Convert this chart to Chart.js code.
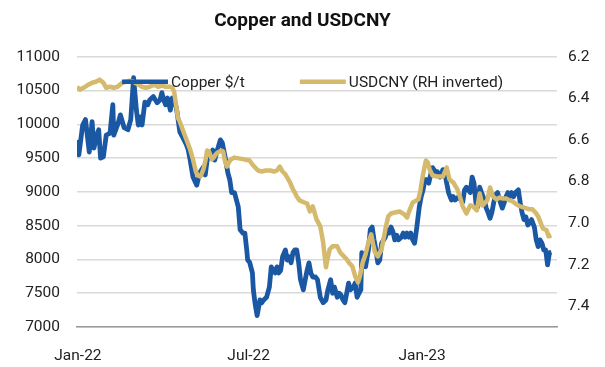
<!DOCTYPE html>
<html lang="en">
<head>
    <meta charset="UTF-8">
    <title>Copper and USDCNY</title>
    <style>
        html, body { margin: 0; padding: 0; background: #fff; }
        #wrap { width: 605px; height: 367px; }
    </style>
</head>
<body>
    <div id="wrap"><canvas id="myChart"></canvas></div>
    <script src="https://cdn.jsdelivr.net/npm/chart.js"></script>
    <script>
        // x values are days counted from 1 Jan 2022
        const copperDays = [-1,1,5,8,12,15,17,20,22,24,27,30,34,37,38,42,45,49,53,56,59,62,64,66,68,71,74,76,80,84,87,89,91,93,95,98,100,103,105,108,111,115,117,119,122,126,129,133,135,137,140,143,145,147,151,153,156,159,161,163,166,170,172,175,177,179,180,182,185,186,188,190,193,195,197,200,203,205,207,209,211,213,215,217,220,222,224,226,228,230,232,234,236,239,241,243,245,247,249,252,254,257,260,263,265,268,270,272,275,277,279,281,283,285,287,289,292,294,296,298,300,301,303,305,308,310,312,314,316,318,320,322,326,328,330,332,334,336,338,340,343,345,347,349,351,353,355,357,359,362,364,366,368,370,372,374,376,379,381,384,387,389,391,393,396,398,400,402,404,406,408,410,412,416,418,420,422,424,426,428,431,433,435,437,439,441,443,445,448,450,452,454,456,458,460,462,464,467,469,471,473,475,477,479,481,484,486,488,490,492,494,496,498,500,502];
        const copperPrice = [9770,9550,9990,10070,9590,10040,9650,9840,9920,9500,9520,9840,9870,10290,9840,9990,10140,9950,9920,10070,10690,10210,9990,10110,9990,10330,10290,10360,10410,10320,10360,10470,10360,10290,10390,10210,10390,10330,10190,9890,9810,9700,9620,9470,9220,9100,9280,9370,9250,9470,9550,9620,9470,9580,9770,9730,9520,9280,9180,8990,8990,8780,8440,8390,8390,8140,7990,7960,7800,7550,7330,7170,7400,7360,7400,7440,7590,7890,7840,7800,7890,7800,7840,8040,8140,7990,8040,7950,8100,8140,8140,7960,7700,7550,7700,7840,7950,7800,7740,7740,7700,7440,7360,7400,7550,7700,7500,7590,7440,7500,7470,7400,7360,7500,7650,7550,7590,7650,7440,7500,7550,8100,8040,7890,8140,8440,8480,8290,8140,7950,7990,8240,8330,8440,8390,8480,8410,8290,8360,8290,8330,8390,8330,8390,8330,8390,8290,8240,8440,8780,8930,9030,9180,9180,9130,9250,9360,9300,9300,9220,9330,9280,9130,8990,8880,8930,8880,8910,8930,8880,8850,9030,9070,8990,9220,9130,8840,8780,9070,8990,8880,8760,8690,8610,8700,8850,8960,8990,8840,8760,8840,8930,8990,8930,8990,8930,8990,9030,8840,8690,8590,8630,8510,8540,8590,8480,8290,8190,8290,8240,8140,8140,7920,8100,8110];

        const cnyDays = [-1,2,6,11,15,19,23,27,30,34,38,42,47,51,55,59,64,68,72,76,81,85,89,93,98,100,102,104,106,108,111,115,119,122,125,127,130,133,135,137,139,142,144,146,148,152,154,156,158,160,162,166,172,177,182,185,188,191,195,199,204,208,211,214,217,220,222,225,228,230,232,235,240,243,246,249,253,257,260,263,265,267,270,275,278,282,285,288,291,294,297,299,302,305,308,311,313,315,318,322,326,329,332,336,341,346,349,352,355,361,363,365,367,369,371,373,376,381,384,387,391,394,398,402,405,408,412,416,419,423,426,429,434,437,440,444,447,451,454,458,461,465,469,473,476,479,482,486,488,491,493,497,499,502];
        const cnyRate = [6.344,6.358,6.349,6.334,6.325,6.320,6.310,6.325,6.349,6.344,6.349,6.344,6.325,6.320,6.315,6.320,6.334,6.344,6.349,6.344,6.334,6.344,6.339,6.344,6.344,6.349,6.368,6.430,6.493,6.512,6.550,6.598,6.646,6.694,6.752,6.771,6.776,6.742,6.704,6.651,6.656,6.694,6.685,6.670,6.661,6.651,6.656,6.704,6.728,6.709,6.694,6.685,6.690,6.694,6.699,6.718,6.733,6.747,6.752,6.747,6.747,6.752,6.747,6.728,6.752,6.766,6.781,6.805,6.838,6.853,6.872,6.891,6.901,6.906,6.944,6.920,6.982,7.016,7.093,7.213,7.165,7.126,7.112,7.112,7.141,7.160,7.174,7.194,7.208,7.256,7.285,7.256,7.189,7.150,7.093,7.054,7.102,7.141,7.160,7.126,7.030,6.968,6.954,6.949,6.944,6.958,6.973,6.934,6.901,6.886,6.848,6.790,6.742,6.699,6.709,6.742,6.771,6.776,6.776,6.776,6.733,6.790,6.805,6.834,6.872,6.920,6.954,6.915,6.920,6.939,6.858,6.915,6.891,6.829,6.872,6.886,6.877,6.882,6.882,6.891,6.896,6.910,6.920,6.925,6.930,6.934,6.934,6.954,6.968,7.002,7.026,7.035,7.064,7.059];

        const xTickDays = [0, 181, 365];
        const xTickLabels = ['Jan-22', 'Jul-22', 'Jan-23'];
        const leftTicks = [7000, 7500, 8000, 8500, 9000, 9500, 10000, 10500, 11000];
        const rightTicks = [6.2, 6.4, 6.6, 6.8, 7.0, 7.2, 7.4];

        const BLUE = '#1a58a3';
        const GOLD = '#d5b96d';
        const tickFont = { family: 'Roboto', size: 15.5 };

        function toPoints(xs, ys) {
            let pts = [];
            for (let i = 0; i < xs.length; i++) pts.push({ x: xs[i], y: ys[i] });
            return pts;
        }

        // legend drawn inside the plot, like the Excel original
        const insideLegend = {
            id: 'insideLegend',
            afterDatasetsDraw(chart) {
                const ctx = chart.ctx;
                const area = chart.chartArea;
                let x = area.left + 45;
                const y = area.top + 25;
                ctx.save();
                ctx.font = '15.5px Roboto';
                ctx.textBaseline = 'middle';
                const items = [chart.data.datasets[0], chart.data.datasets[1]];
                items.forEach(ds => {
                    ctx.strokeStyle = ds.borderColor;
                    ctx.lineWidth = 4.5;
                    ctx.beginPath();
                    ctx.moveTo(x, y);
                    ctx.lineTo(x + 46, y);
                    ctx.stroke();
                    ctx.fillStyle = '#222';
                    ctx.fillText(ds.label, x + 49, y + 1);
                    x += 49 + ctx.measureText(ds.label).width + 55;
                });
                ctx.restore();
            }
        };

        const ctx = document.getElementById('myChart');
        new Chart(ctx, {
            type: 'line',
            data: {
                datasets: [{
                    label: 'Copper $/t',
                    data: toPoints(copperDays, copperPrice),
                    borderColor: BLUE,
                    borderWidth: 4.8,
                    pointRadius: 0,
                    tension: 0,
                    borderJoinStyle: 'round',
                    yAxisID: 'y',
                    order: 1
                }, {
                    label: 'USDCNY (RH inverted)',
                    data: toPoints(cnyDays, cnyRate),
                    borderColor: GOLD,
                    borderWidth: 4.5,
                    pointRadius: 0,
                    tension: 0,
                    borderJoinStyle: 'round',
                    yAxisID: 'y1',
                    order: 0
                }]
            },
            options: {
                responsive: true,
                maintainAspectRatio: false,
                animation: false,
                devicePixelRatio: 1,
                layout: { padding: 0 },
                scales: {
                    x: {
                        type: 'linear',
                        min: -1,
                        max: 508,
                        grid: { display: false },
                        border: { display: true, color: '#9a9a9a', width: 1.5 },
                        afterBuildTicks: s => { s.ticks = xTickDays.map(v => ({ value: v })); },
                        afterFit: s => { s.height = 40; },
                        ticks: {
                            autoSkip: false,
                            maxRotation: 0,
                            padding: 12,
                            color: '#222',
                            font: tickFont,
                            callback: (v, i) => xTickLabels[i]
                        }
                    },
                    y: {
                        position: 'left',
                        min: 7000,
                        max: 11000,
                        afterBuildTicks: s => { s.ticks = leftTicks.map(v => ({ value: v })); },
                        afterFit: s => { s.width = 77; },
                        grid: { color: '#d9d9d9', lineWidth: 1.5, drawTicks: false },
                        border: { display: false },
                        ticks: {
                            padding: 17,
                            color: '#222',
                            font: tickFont,
                            callback: v => String(v)
                        }
                    },
                    y1: {
                        position: 'right',
                        reverse: true,
                        min: 6.2,
                        max: 7.5,
                        afterBuildTicks: s => { s.ticks = rightTicks.map(v => ({ value: v })); },
                        afterFit: s => { s.width = 48; },
                        grid: { display: false, drawTicks: false },
                        border: { display: false },
                        ticks: {
                            padding: 11,
                            color: '#222',
                            font: tickFont,
                            callback: v => v.toFixed(1)
                        }
                    }
                },
                plugins: {
                    legend: { display: false },
                    tooltip: { enabled: false },
                    title: {
                        display: true,
                        text: 'Copper and USDCNY',
                        color: '#111',
                        font: { family: 'Roboto', size: 19, weight: 'bold' },
                        padding: { top: 10, bottom: 24 }
                    }
                }
            },
            plugins: [insideLegend]
        });
    </script>
</body>
</html>
